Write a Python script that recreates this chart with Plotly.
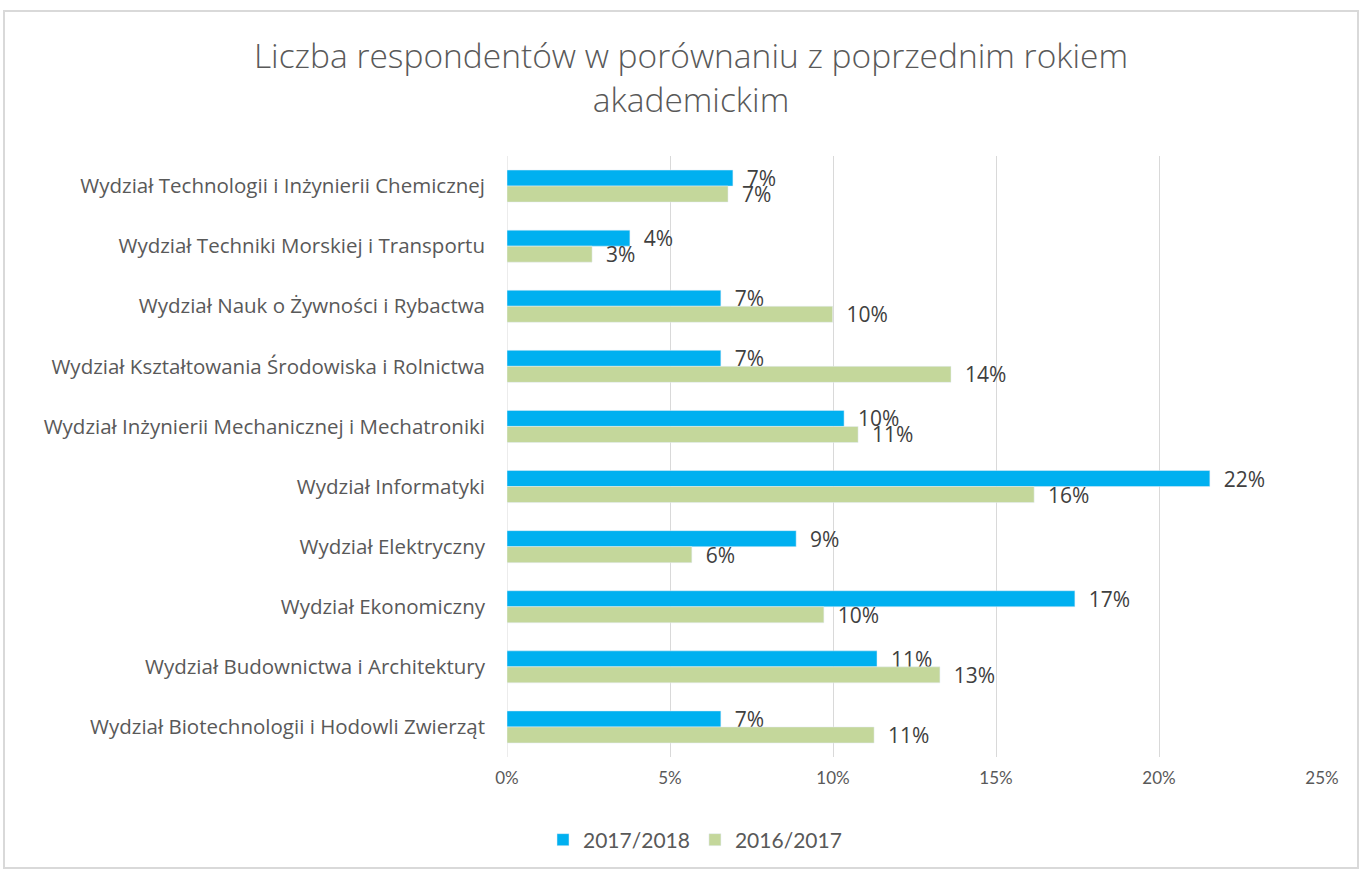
import plotly.graph_objects as go

categories = [
    "Wydział Technologii i Inżynierii Chemicznej",
    "Wydział Techniki Morskiej i Transportu",
    "Wydział Nauk o Żywności i Rybactwa",
    "Wydział Kształtowania Środowiska i Rolnictwa",
    "Wydział Inżynierii Mechanicznej i Mechatroniki",
    "Wydział Informatyki",
    "Wydział Elektryczny",
    "Wydział Ekonomiczny",
    "Wydział Budownictwa i Architektury",
    "Wydział Biotechnologii i Hodowli Zwierząt",
]
values_2017_2018 = [0.0693, 0.0377, 0.0656, 0.0656, 0.1034, 0.2156, 0.0887, 0.1742, 0.1135, 0.0656]
values_2016_2017 = [0.0678, 0.0261, 0.0999, 0.1362, 0.1077, 0.1617, 0.0567, 0.0972, 0.1328, 0.1126]
x_ticks = [0, 0.05, 0.10, 0.15, 0.20, 0.25]
x_tick_labels = ["0%", "5%", "10%", "15%", "20%", "25%"]

LATO = "Lato, Open Sans, sans-serif"
OPEN = "Open Sans, Lato, sans-serif"
W, H = 1363, 871
ML, MR, MT, MB = 507, 41, 156, 114

pad = "\u00a0" * 2
fig = go.Figure()
fig.add_trace(go.Bar(
    y=categories, x=values_2017_2018, name="2017/2018", orientation="h",
    marker_color="#00B0F0", texttemplate=pad + "%{x:.0%}", textposition="outside",
    textfont=dict(family=OPEN, size=21, color="#404040"), cliponaxis=False,
    constraintext="none",
))
fig.add_trace(go.Bar(
    y=categories, x=values_2016_2017, name="2016/2017", orientation="h",
    marker_color="#C4D79B", texttemplate=pad + "%{x:.0%}", textposition="outside",
    textfont=dict(family=OPEN, size=21, color="#404040"), cliponaxis=False,
    constraintext="none",
))

pw = W - ML - MR
ph = H - MT - MB
x0 = (4 - ML) / pw
x1 = (1358 - ML) / pw
y0 = -(MB - (H - 868)) / ph
y1 = (H - 11 - MB) / ph
fig.add_shape(type="rect", xref="paper", yref="paper", x0=x0, x1=x1, y0=y0, y1=y1,
              line=dict(color="#D9D9D9", width=2), layer="below")

fig.update_layout(
    width=W, height=H,
    margin=dict(l=ML, r=MR, t=MT, b=MB),
    paper_bgcolor="white", plot_bgcolor="white",
    barmode="group", bargap=0.467, bargroupgap=0,
    title=dict(text="Liczba respondentów w porównaniu z poprzednim rokiem<br>akademickim",
               x=691 / W, xanchor="center", y=1 - 68 / H, yanchor="middle",
               font=dict(family=OPEN, size=33.5, color="#595959", weight=300)),
    xaxis=dict(range=[0, 0.25], tickvals=x_ticks, ticktext=x_tick_labels,
               showgrid=True, gridcolor="#D9D9D9", gridwidth=1, zeroline=False,
               showline=False, ticks="", ticklabelstandoff=9,
               tickfont=dict(family=LATO, size=17, color="#595959")),
    yaxis=dict(autorange="reversed", showgrid=False, showline=False, ticks="",
               ticklabelstandoff=21,
               tickfont=dict(family=OPEN, size=20.5, color="#595959")),
    legend=dict(orientation="h", x=695 / W, xanchor="center", xref="container",
                y=1 - 840 / H, yref="container", yanchor="middle",
                font=dict(family=LATO, size=21, color="#595959")),
    showlegend=True,
)
fig.add_vline(x=0, line=dict(color="#D9D9D9", width=1), layer="below")

fig.write_html("out.html", config={"displayModeBar": False},
               post_script="document.body.style.margin='0';")
